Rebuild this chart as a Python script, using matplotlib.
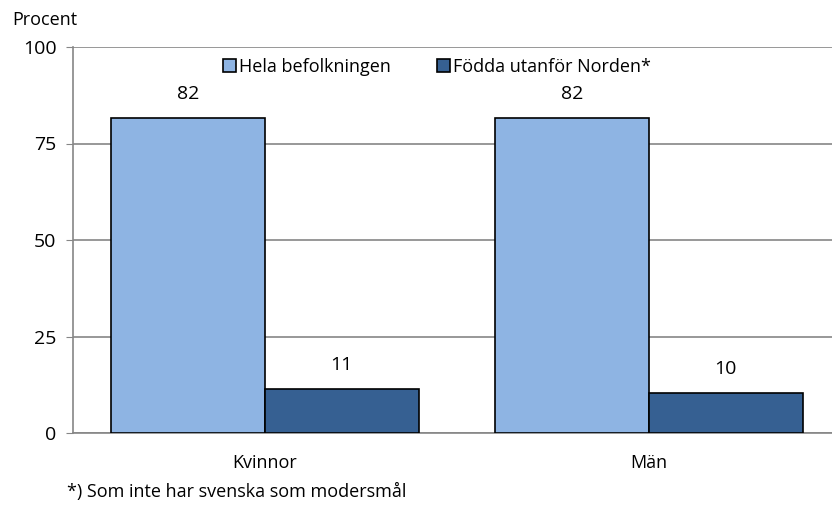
import numpy as np
import matplotlib.pyplot as plt

categories = ["Kvinnor", "Män"]
series_names = ["Hela befolkningen", "Födda utanför Norden*"]
hela = [81.7, 81.7]
fodda = [11.4, 10.4]
colors = ["#8EB4E3", "#366092"]
yticks = [0, 25, 50, 75, 100]

plt.rcParams['font.family'] = ['Open Sans', 'DejaVu Sans']
fs = 13
fs_num = 14

fig = plt.figure(figsize=(8.32, 5.09), dpi=100)
ax = fig.add_axes([73 / 832, 76 / 509, 768 / 832, 386 / 509])

x = np.arange(len(categories))
w = 0.4
b1 = ax.bar(x - w / 2, hela, w, color=colors[0], edgecolor="black", linewidth=1.2,
            label=series_names[0], zorder=3)
b2 = ax.bar(x + w / 2, fodda, w, color=colors[1], edgecolor="black", linewidth=1.2,
            label=series_names[1], zorder=3)

for bars in (b1, b2):
    for r in bars:
        ax.text(r.get_x() + r.get_width() / 2, r.get_height() + 3.8,
                f"{r.get_height():.0f}", ha="center", va="bottom", fontsize=fs_num)

ax.set_xlim(-0.5, 1.5)
ax.set_ylim(0, 100)
ax.set_yticks(yticks)
ax.set_xticks(x)
ax.set_xticklabels(categories, fontsize=fs)
ax.tick_params(axis="y", labelsize=fs_num, length=5, color="#868686", pad=7)
ax.tick_params(axis="x", length=0, pad=15)
ax.grid(axis="y", color="#868686", linewidth=1.2, zorder=0)
for s in ["top", "right"]:
    ax.spines[s].set_visible(False)
for s in ["left", "bottom"]:
    ax.spines[s].set_color("#868686")
    ax.spines[s].set_linewidth(1.2)

leg = ax.legend(loc="upper center", bbox_to_anchor=((437 - 73) / 768, 1.0),
                ncol=2, frameon=False, fontsize=fs, handlelength=0.7, handleheight=0.7,
                handletextpad=0.15, columnspacing=2.6, borderaxespad=0.2)

fig.text(12 / 832, 1 - 20 / 509, "Procent", fontsize=fs, va="center", ha="left")
fig.text(67 / 832, 1 - 492 / 509, "*) Som inte har svenska som modersmål", fontsize=fs,
         va="center", ha="left")

fig.savefig("out.png", dpi=100)
